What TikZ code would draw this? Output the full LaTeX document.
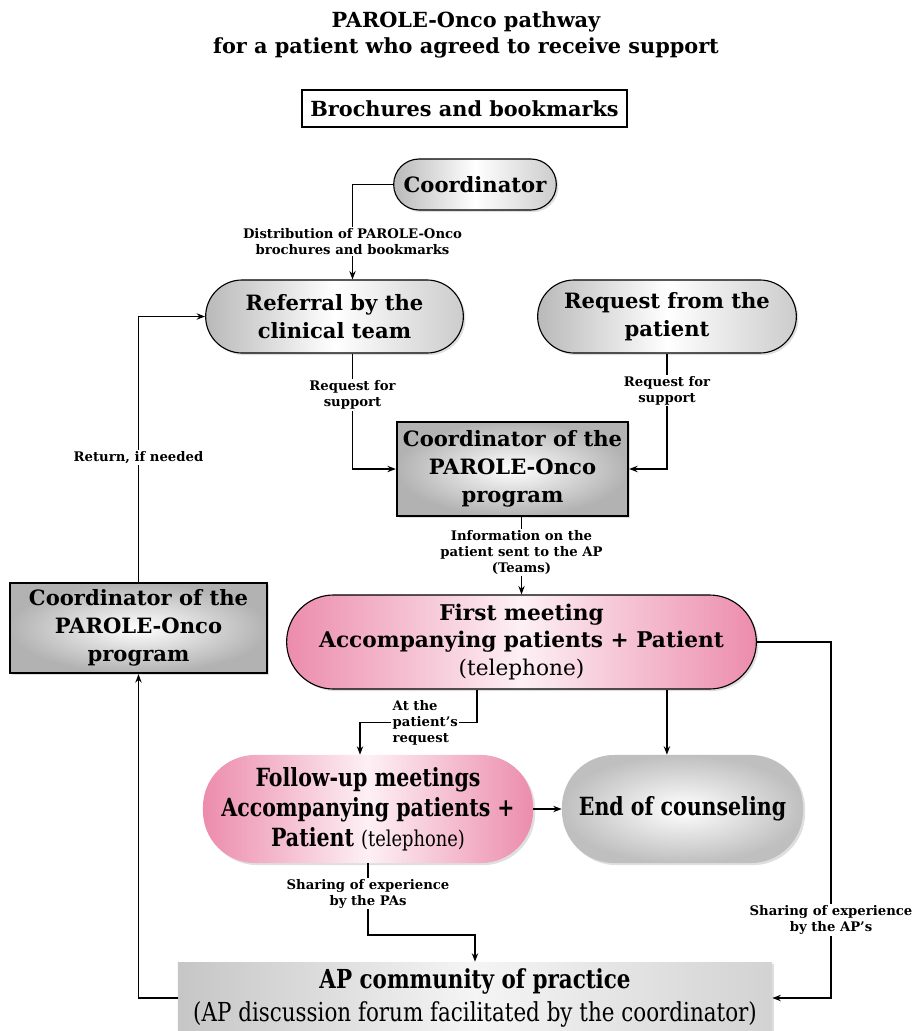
\documentclass[tikz,border=0pt]{standalone}
\usepackage{fontspec}
\setmainfont{DejaVu Serif}
\newfontfamily\narrowfont[FakeStretch = 0.82]{DejaVu Serif}
\usetikzlibrary{shapes.misc, shadows, arrows.meta}
\definecolor{pinkdeep}{RGB}{236,140,172}
\definecolor{pinkpale}{RGB}{253,240,245}
\begin{document}
\begin{tikzpicture}[x = 0.025cm, y = -0.025cm, > = {Stealth[length = 6pt, width = 4.5pt]},
	big/.style = {font = \fontsize{15}{20}\selectfont\bfseries, align = center},
	slim/.style = {font = \fontsize{17.8}{21.5}\selectfont\narrowfont\bfseries, align = center},
	tag/.style = {font = \fontsize{9.4}{11.3}\selectfont\bfseries, align = center, fill = white, inner sep = 1pt},
	shade/.style = {drop shadow = {opacity = 0.25, shadow xshift = 1.5pt, shadow yshift = -1.5pt}},
	greypill/.style = {rounded rectangle, draw, line width = 0.8pt, left color = gray!55, right color = gray!40, middle color = white, shade},
	pinkpill/.style = {rounded rectangle, left color = pinkdeep, right color = pinkdeep, middle color = pinkpale, shade},
	greybox/.style = {rectangle, draw, line width = 1.6pt, inner color = white, outer color = gray!60, shade},
	link/.style = {->, line width = 1.3pt}]
	\useasboundingbox ( 0, 0 ) rectangle ( 919, 1031 );
	% title and brochures
	\node [big, font = \fontsize{14.8}{18}\selectfont\bfseries] (title) at ( 466, 35 ) {PAROLE-Onco pathway\\for a patient who agreed to receive support};
	\node [draw, line width = 1.6pt, minimum width = 8.125cm, minimum height = 0.925cm, font = \fontsize{14.8}{18}\selectfont\bfseries] (brochures) at ( 464.5, 108.5 ) {Brochures and bookmarks};
	% top of the pathway
	\node [greypill, big, minimum width = 4.3cm, minimum height = 1.275cm] (coord) at ( 475, 184.5 ) {Coordinator};
	\node [greypill, big, minimum width = 6.675cm, minimum height = 1.825cm] (referral) at ( 334.5, 316.5 ) {Referral by the\\clinical team};
	\node [greypill, big, minimum width = 6.7cm, minimum height = 1.825cm] (request) at ( 667, 316.5 ) {Request from the\\patient};
	\node [greybox, big, minimum width = 5.775cm, minimum height = 2.35cm] (progbox) at ( 512.5, 469 ) {Coordinator of the\\PAROLE-Onco\\program};
	% meetings
	\node [pinkpill, draw, line width = 0.8pt, big, font = \fontsize{15.4}{19.5}\selectfont\bfseries, minimum width = 11.975cm, minimum height = 2.35cm] (first) at ( 521.5, 642 ) {First meeting\\Accompanying patients + Patient\\{\mdseries (telephone)}};
	\node [pinkpill, rectangle, rounded corners = 1.3cm, slim, minimum width = 8.25cm, minimum height = 2.7cm] (followup) at ( 368, 809 ) {Follow-up meetings\\Accompanying patients +\\Patient {\fontsize{15.5}{21.5}\selectfont\mdseries (telephone)}};
	\node [rectangle, rounded corners = 1.3cm, inner color = white, outer color = gray!50, shade, slim, minimum width = 6.025cm, minimum height = 2.7cm] (endc) at ( 682.5, 809 ) {End of counseling};
	% community and return
	\node [rectangle, left color = gray!45, right color = gray!35, middle color = gray!8, shade, slim, font = \fontsize{18.6}{24}\selectfont\narrowfont\bfseries, minimum width = 14.85cm, minimum height = 1.8cm] (community) at ( 475, 998 ) {AP community of practice\\{\mdseries (AP discussion forum facilitated by the coordinator)}};
	\node [greybox, big, minimum width = 6.425cm, minimum height = 2.25cm] (leftbox) at ( 138.5, 628 ) {Coordinator of the\\PAROLE-Onco\\program};
	% connectors
	\draw [link] (coord.west) -| ([xshift = 0.45cm] referral.north) node [tag, pos = 0.8] {Distribution of PAROLE-Onco\\brochures and bookmarks};
	\draw [link] ([xshift = 0.45cm] referral.south) |- (progbox.west) node [tag, pos = 0.18] {Request for\\support};
	\draw [link] (request.south) |- (progbox.east) node [tag, pos = 0.16] {Request for\\support};
	\draw [link] (progbox.south -| first.north) -- (first.north) node [tag, pos = 0.46] {Information on the\\patient sent to the AP\\(Teams)};
	\coordinate (rail) at ( 831, 642 );
	\draw [link] (first.east) -- (rail) |- (community.east) node [tag, pos = 0.39] {Sharing of experience\\by the AP's};
	\draw [link] ([xshift = -1.1125cm] first.south) -- ++( 0, 33 ) -| ([xshift = -0.2cm] followup.north) node [tag, align = left, anchor = west, pos = 0.37] {At the\\patient's\\request};
	\draw [link] ([xshift = -0.39cm] endc.north |- first.south) -- ([xshift = -0.39cm] endc.north);
	\draw [link] (followup) -- (endc);
	\draw [link] (followup.south) -- node [tag, pos = 0.42] {Sharing of experience\\by the PAs} ++( 0, 72 ) -| (community.north);
	\draw [link] (community.west) -| (leftbox.south);
	\draw [link] (leftbox.north) |- (referral.west) node [tag, pos = 0.234] {Return, if needed};
\end{tikzpicture}
\end{document}
